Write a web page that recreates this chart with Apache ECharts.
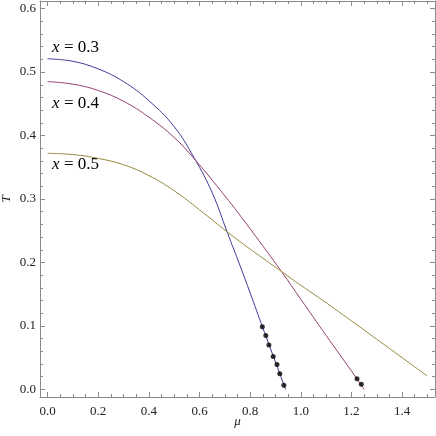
<!DOCTYPE html>
<html>
<head>
<meta charset="utf-8">
<script src="https://cdn.jsdelivr.net/npm/echarts@6/dist/echarts.min.js"></script>
<style>
  html, body { margin: 0; padding: 0; background: #fff; }
  #chart { width: 436px; height: 436px; }
</style>
</head>
<body>
<div id="chart"></div>
<script>
// curve values: [mu, T]
const curveX03 = [[0,0.521],[0.1,0.517],[0.2,0.505],[0.3,0.485],[0.4,0.455],[0.5,0.414],[0.58,0.364],[0.65,0.310],[0.71,0.247],[0.76,0.195],[0.8,0.152],[0.85,0.097],[0.94,0.0]];
const curveX04 = [[0,0.485],[0.1,0.481],[0.2,0.471],[0.3,0.454],[0.4,0.429],[0.5,0.397],[0.58,0.363],[0.7,0.305],[0.8,0.253],[0.925,0.185],[1.0,0.142],[1.1,0.085],[1.2,0.029],[1.25,0.0]];
const curveX05 = [[0,0.372],[0.1,0.370],[0.2,0.364],[0.3,0.354],[0.4,0.337],[0.5,0.313],[0.6,0.283],[0.71,0.248],[0.8,0.221],[0.93,0.184],[1.0,0.164],[1.07,0.145],[1.2,0.108],[1.3,0.079],[1.4,0.050],[1.5,0.021]];
const dotsX03 = [[0.848,0.0987],[0.862,0.0851],[0.874,0.0698],[0.891,0.0519],[0.906,0.0393],[0.917,0.0246],[0.933,0.0065]];
const dotsX04 = [[1.222,0.0167],[1.239,0.0079]];

const seriesNames = ['0.3', '0.4', '0.5'];
const xMajor = [0, 0.2, 0.4, 0.6, 0.8, 1.0, 1.2, 1.4];
const yMajor = [0, 0.1, 0.2, 0.3, 0.4, 0.5, 0.6];

// minor ticks between the labelled ones
const xMinor = [];
for (let i = 0; i <= 30; i++) if (i % 4) xMinor.push(i * 0.05);
const yMinor = [];
for (let i = 0; i <= 30; i++) if (i % 5) yMinor.push(i * 0.02);

const colors = ['#3d3d99', '#993d71', '#998b3d'];
const frame = '#8a8a8a';
const serif = 'Liberation Serif';

const chart = echarts.init(document.getElementById('chart'));

function xAx(pos, ticks, len, withLine, extra) {
  return Object.assign({
    type: 'value', position: pos, min: -0.03, max: 1.53,
    axisLine: { show: withLine, onZero: false, lineStyle: { color: frame, width: 1 } },
    axisTick: { show: true, inside: true, length: len, customValues: ticks, lineStyle: { color: frame } },
    axisLabel: { show: false },
    splitLine: { show: false }
  }, extra || {});
}
function yAx(pos, ticks, len, withLine, extra) {
  return Object.assign({
    type: 'value', position: pos, min: -0.012, max: 0.612,
    axisLine: { show: withLine, onZero: false, lineStyle: { color: frame, width: 1 } },
    axisTick: { show: true, inside: true, length: len, customValues: ticks, lineStyle: { color: frame } },
    axisLabel: { show: false },
    splitLine: { show: false }
  }, extra || {});
}

// "x = 0.3" style labels, italic x then upright rest
const curveLabel = (y, text) => [
  { type: 'text', x: 52, y: y, style: { text: 'x', font: 'italic 17px "Liberation Serif"', fill: '#000', verticalAlign: 'middle' } },
  { type: 'text', x: 64, y: y, style: { text: '= ' + text, font: '17px "Liberation Serif"', fill: '#000', verticalAlign: 'middle' } }
];

chart.setOption({
  animation: false,
  backgroundColor: '#fff',
  grid: { left: 40, right: 1, top: 1, bottom: 39, outerBoundsMode: 'none', containLabel: false },
  xAxis: [
    xAx('bottom', xMajor, 5, true, {
      axisLabel: {
        show: true, customValues: xMajor, margin: 8,
        fontFamily: serif, fontSize: 13, color: '#222',
        formatter: v => v.toFixed(1)
      },
      name: 'μ', nameLocation: 'middle', nameGap: 18, nameMoveOverlap: false,
      nameTextStyle: { fontFamily: serif, fontSize: 13, fontStyle: 'italic', color: '#222' }
    }),
    xAx('bottom', xMinor, 3, false),
    xAx('top', xMajor, 5, true),
    xAx('top', xMinor, 3, false)
  ],
  yAxis: [
    yAx('left', yMajor, 5, true, {
      axisLabel: {
        show: true, customValues: yMajor, margin: 4,
        fontFamily: serif, fontSize: 13, color: '#222',
        formatter: v => v.toFixed(1)
      },
      name: 'T', nameLocation: 'middle', nameGap: 27, nameRotate: 90, nameMoveOverlap: false,
      nameTextStyle: { fontFamily: serif, fontSize: 13, fontStyle: 'italic', color: '#222' }
    }),
    yAx('left', yMinor, 3, false),
    yAx('right', yMajor, 5, true),
    yAx('right', yMinor, 3, false)
  ],
  series: [
    { type: 'line', data: curveX03, smooth: 0.4, showSymbol: false, lineStyle: { color: colors[0], width: 1 } },
    { type: 'line', data: curveX04, smooth: 0.4, showSymbol: false, lineStyle: { color: colors[1], width: 1 } },
    { type: 'line', data: curveX05, smooth: 0.4, showSymbol: false, lineStyle: { color: colors[2], width: 1 } },
    { type: 'scatter', data: dotsX03, symbolSize: 5, itemStyle: { color: '#000' }, z: 5 },
    { type: 'scatter', data: dotsX04, symbolSize: 5, itemStyle: { color: '#000' }, z: 5 }
  ],
  graphic: [].concat(
    curveLabel(47.5, seriesNames[0]),
    curveLabel(104, seriesNames[1]),
    curveLabel(165, seriesNames[2])
  )
});
</script>
</body>
</html>
